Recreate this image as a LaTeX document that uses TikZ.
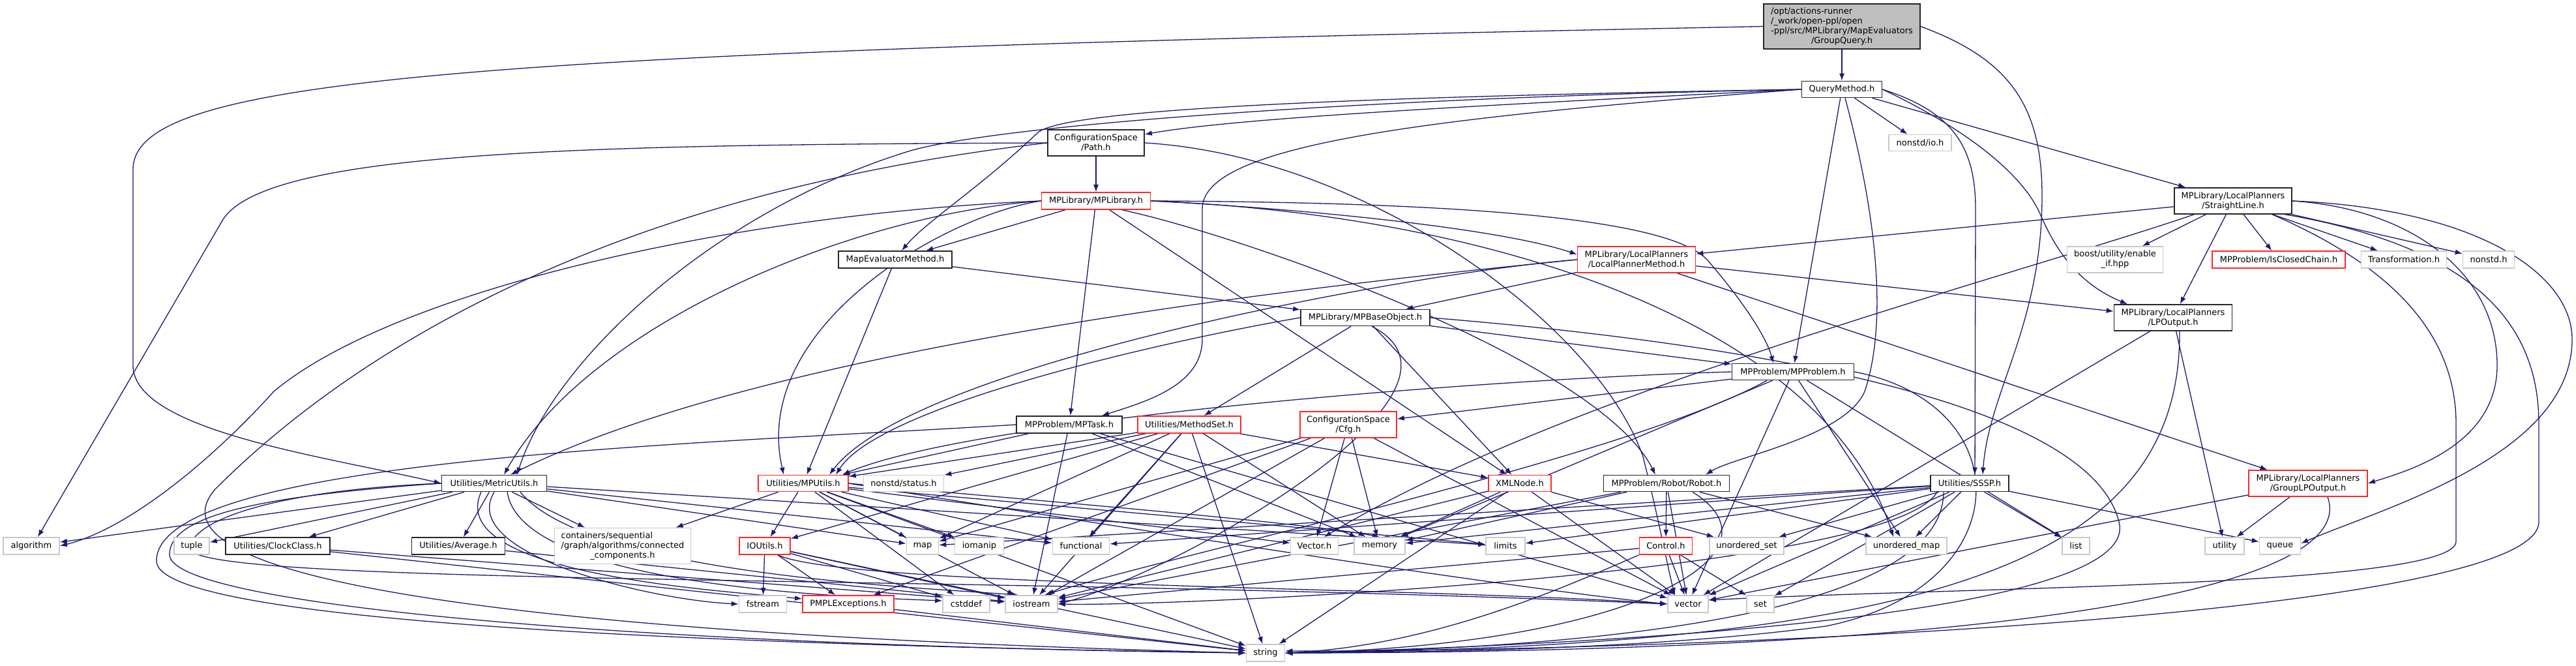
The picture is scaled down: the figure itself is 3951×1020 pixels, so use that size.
\documentclass[tikz,border=0pt]{standalone}
\usepackage{fontspec}
\setmainfont{DejaVu Sans}
\usetikzlibrary{arrows.meta}
\definecolor{edgec}{RGB}{25,25,112}
\definecolor{extg}{RGB}{200,200,200}
\definecolor{gqf}{RGB}{191,191,191}
\definecolor{rdc}{RGB}{255,40,40}
\pgfdeclarelayer{bg}
\pgfsetlayers{bg,main}
\tikzset{
 blk/.style={draw=black!85, line width=1.6pt, fill=white, inner sep=0pt, font=\fontsize{13}{15}\selectfont, align=center},
 rdn/.style={blk, draw=rdc},
 gry/.style={blk, draw=extg},
 gqs/.style={blk, fill=gqf},
 edg/.style={draw=edgec, line width=1.3pt, -{Latex[length=11pt,width=8pt]}}
}
\newcommand\nd[6]{\node[#1,minimum width=#4pt,minimum height=#5pt] (#2) at (#3) {#6};}
\begin{document}
\begin{tikzpicture}[x=1pt,y=-1pt]
\useasboundingbox (0,0) rectangle (3951,1020);
% rank 0-2
\nd{gqs}{GQ}{2825,40.5}{240}{69}{\begin{tabular}{@{}l@{}}/opt/actions-runner\\/\_work/open-ppl/open\\-ppl/src/MPLibrary/MapEvaluators\\\multicolumn{1}{@{}c@{}}{/GroupQuery.h}\end{tabular}}
\nd{blk}{QM}{2825,137}{123}{25}{QueryMethod.h}
\nd{gry}{nio}{2945,219}{96}{25}{nonstd/io.h}
\nd{blk}{Path}{1681,219}{148}{40}{ConfigurationSpace\\/Path.h}
\nd{rdn}{MPL}{1681,308}{167}{26}{MPLibrary/MPLibrary.h}
\nd{blk}{SL}{3425,308}{180}{40}{MPLibrary/LocalPlanners\\/StraightLine.h}
\nd{blk}{MEM}{1373,398}{174}{26}{MapEvaluatorMethod.h}
\nd{rdn}{LPM}{2510,398}{181}{40}{MPLibrary/LocalPlanners\\/LocalPlannerMethod.h}
\nd{gry}{eif}{3244,398}{147}{40}{boost/utility/enable\\\_if.hpp}
\nd{rdn}{ICC}{3495,398}{204}{26}{MPProblem/IsClosedChain.h}
\nd{gry}{Trans}{3687,398}{131}{26}{Transformation.h}
\nd{gry}{nstd}{3817,398}{79}{26}{nonstd.h}
\nd{blk}{MPBO}{2094,487}{198}{25}{MPLibrary/MPBaseObject.h}
\nd{blk}{LPO}{3333,487}{181}{40}{MPLibrary/LocalPlanners\\/LPOutput.h}
\nd{blk}{MPP}{2750,570}{187}{25}{MPProblem/MPProblem.h}
\nd{blk}{MPT}{1640,651}{162}{26}{MPProblem/MPTask.h}
\nd{rdn}{MS}{1824,651}{158}{26}{Utilities/MethodSet.h}
\nd{rdn}{Cfg}{2068,651}{148}{40}{ConfigurationSpace\\/Cfg.h}
\nd{blk}{MU}{758,741}{161}{25}{Utilities/MetricUtils.h}
\nd{rdn}{MPU}{1232,741}{138}{25}{Utilities/MPUtils.h}
\nd{gry}{status}{1386,741}{123}{25}{nonstd/status.h}
\nd{rdn}{XML}{2331,741}{96}{25}{XMLNode.h}
\nd{blk}{Robot}{2556,741}{193}{25}{MPProblem/Robot/Robot.h}
\nd{blk}{SSSP}{3021,741}{120}{25}{Utilities/SSSP.h}
\nd{rdn}{GLPO}{3540,741}{182}{40}{MPLibrary/LocalPlanners\\/GroupLPOutput.h}
\nd{gry}{algo}{48,837}{86}{26}{algorithm}
\nd{gry}{tuple}{294,837}{54}{26}{tuple}
\nd{blk}{Clock}{426,837}{160}{26}{Utilities/ClockClass.h}
\nd{blk}{Avg}{703,837}{143}{26}{Utilities/Average.h}
\nd{gry}{conn}{955,837}{209}{55}{\begin{tabular}{@{}l@{}}containers/sequential\\/graph/algorithms/connected\\\multicolumn{1}{@{}c@{}}{\_components.h}\end{tabular}}
\nd{rdn}{IOU}{1173,837}{78}{26}{IOUtils.h}
\nd{gry}{map}{1415,837}{49}{26}{map}
\nd{gry}{iomanip}{1502,837}{75}{26}{iomanip}
\nd{gry}{func}{1658,837}{87}{26}{functional}
\nd{gry}{VecH}{2016,837}{73}{26}{Vector.h}
\nd{gry}{memory}{2116,837}{78}{26}{memory}
\nd{gry}{limits}{2309,837}{60}{26}{limits}
\nd{rdn}{Control}{2555,837}{81}{26}{Control.h}
\nd{gry}{uset}{2679,837}{114}{26}{unordered\_set}
\nd{gry}{umap}{2924,837}{124}{26}{unordered\_map}
\nd{gry}{list}{3184,837}{42}{26}{list}
\nd{gry}{utility}{3412,837}{60}{26}{utility}
\nd{gry}{queue}{3497,837}{63}{26}{queue}
\nd{gry}{fstream}{1170,926}{73}{26}{fstream}
\nd{rdn}{PMPL}{1301,926}{140}{26}{PMPLExceptions.h}
\nd{gry}{cstddef}{1482,926}{72}{26}{cstddef}
\nd{gry}{iostream}{1582,926}{80}{26}{iostream}
\nd{gry}{vector}{2589,926}{62}{26}{vector}
\nd{gry}{set}{2700,926}{42}{26}{set}
\nd{gry}{string}{1941,1001}{59}{26}{string}

\begin{pgfonlayer}{bg}
\foreach \a/\b in {GQ/QM, QM/nio, QM/SL, QM/MPP, Path/MPL, MPL/MEM, MPL/MPT, MPL/XML,
 MEM/MPBO, MEM/MPU, LPM/MPBO, LPM/LPO, LPM/GLPO, SL/LPM, SL/LPO, SL/eif, SL/ICC, SL/Trans, SL/nstd,
 MPBO/MPP, MPBO/MS, MPBO/XML, MPP/Cfg, MPT/MPU, MS/MPU, MS/status, MS/IOU, MS/func, MS/iostream,
 MS/string, MS/memory, MS/map, MS/XML, Cfg/memory, Cfg/VecH, Cfg/iostream, Cfg/vector, Cfg/PMPL, Cfg/map,
 MPU/IOU, MPU/map, MPU/iomanip, MPU/func, MPU/conn, MPU/VecH, MPU/cstddef, MPU/iostream, MPU/string, MPU/limits,
 MU/tuple, MU/Clock, MU/Avg, MU/conn, MU/algo, IOU/fstream, IOU/PMPL, IOU/iostream, IOU/cstddef, IOU/string,
 PMPL/string, XML/memory, XML/vector, XML/string, XML/iostream, XML/uset, Robot/Control, Robot/memory,
 Robot/umap, Robot/vector, Robot/iostream, Control/vector, Control/set, Control/iostream,
 SSSP/func, SSSP/limits, SSSP/list, SSSP/uset, SSSP/umap, SSSP/vector, SSSP/set, SSSP/queue, SSSP/memory, SSSP/map,
 LPO/utility, LPO/vector, GLPO/utility, GLPO/vector, Clock/iostream, Clock/string, Avg/iostream,
 MPP/memory, MPP/umap, MPP/vector, MPP/list, MPT/memory, MPT/vector, MPT/iostream, MU/func, MU/limits, MU/map}
 {\draw[edg] (\a) -- (\b);}
% long curves
\draw[edg] (GQ.west) .. controls (700,80) and (204,120) .. (204,260) -- (204,560) .. controls (204,660) and (500,700) .. (MU.west);
\draw[edg] (GQ.east) .. controls (3080,90) and (3132,160) .. (3132,300) .. controls (3132,500) and (3050,600) .. ([xshift=20pt]SSSP.north);
\draw[edg] (QM.east) .. controls (2990,170) and (3030,220) .. (3030,320) -- ([xshift=8pt]SSSP.north);
\draw[edg] ([xshift=5pt]QM.south) .. controls (2870,300) and (2900,480) .. (2860,600) .. controls (2830,670) and (2660,700) .. ([xshift=60pt]Robot.north);
\draw[edg] (QM.east) .. controls (3000,190) and (3100,260) .. (3130,330) .. controls (3160,400) and (3200,440) .. ([xshift=-70pt]LPO.north);
\draw[edg] (QM.west) .. controls (2300,160) and (1900,180) .. ([yshift=13pt]Path.east);
\draw[edg] (QM.west) .. controls (2000,150) and (1620,170) .. (1590,205) .. controls (1500,290) and (1420,340) .. ([xshift=10pt]MEM.north);
\draw[edg] (QM.west) .. controls (2200,180) and (1844,220) .. (1844,320) -- (1844,520) .. controls (1844,590) and (1760,615) .. ([xshift=50pt]MPT.north);
\draw[edg] (QM.west) .. controls (2100,150) and (1550,190) .. (1400,230) .. controls (1100,320) and (850,550) .. ([xshift=35pt]MU.north);
\draw[edg] (Path.west) .. controls (900,222) and (400,230) .. (340,340) -- ([xshift=10pt]algo.north);
\draw[edg] (Path.west) .. controls (900,300) and (520,560) .. (330,750) .. controls (200,900) and (900,975) .. (string.west);
\draw[edg] (Path.east) .. controls (2100,240) and (2450,500) .. (2520,700) .. controls (2545,800) and (2560,880) .. ([xshift=-20pt]vector.north);
\draw[edg] (MPL.east) .. controls (2000,320) and (2300,350) .. ([yshift=8pt]LPM.west);
\draw[edg] (MPL.east) .. controls (2200,310) and (2560,330) .. (2620,400) .. controls (2680,470) and (2710,520) .. ([xshift=-30pt]MPP.north);
\draw[edg] ([xshift=40pt]MPL.south) .. controls (1900,360) and (2450,550) .. ([xshift=-17pt]Robot.north);
\draw[edg] (MPL.west) .. controls (1300,330) and (900,500) .. ([xshift=15pt]MU.north);
\draw[edg] (MPL.west) .. controls (1450,330) and (1150,500) .. ([xshift=-30pt]MPU.north);
\draw[edg] (MPL.west) .. controls (1100,330) and (600,450) .. (420,600) .. controls (330,700) and (200,810) .. (algo.east);
\draw[edg] (MPL.east) .. controls (2300,330) and (2800,500) .. ([xshift=-20pt]umap.north);
\draw[edg] (LPM.west) .. controls (2100,430) and (1200,520) .. ([xshift=25pt]MU.north);
\draw[edg] (LPM.west) .. controls (2150,420) and (1400,560) .. ([xshift=40pt]MPU.north);
\draw[edg] (SL.east) .. controls (3700,320) and (3830,420) .. (3830,560) .. controls (3830,680) and (3700,720) .. (GLPO.east);
\draw[edg] (SL.east) .. controls (3800,320) and (3945,420) .. (3945,520) .. controls (3945,700) and (3650,780) .. ([yshift=4pt]queue.east);
\draw[edg] ([xshift=60pt]SL.south) .. controls (3650,400) and (3767,500) .. (3767,650) -- (3767,830) .. controls (3767,900) and (3000,900) .. ([yshift=6pt]vector.east);
\draw[edg] ([xshift=80pt]SL.south) .. controls (3800,380) and (3894,500) .. (3894,650) -- (3894,800) .. controls (3894,950) and (2500,1000) .. ([yshift=3pt]string.east);
\draw[edg] ([xshift=-60pt]SL.south) .. controls (3100,420) and (2400,600) .. ([xshift=15pt]VecH.north);
\draw[edg] ([xshift=10pt]LPO.south) .. controls (3345,850) and (3000,990) .. (string.east);
\draw[edg] ([xshift=30pt]GLPO.south) .. controls (3620,900) and (3100,1000) .. (string.east);
\draw[edg] (MPBO.west) .. controls (1800,520) and (1350,620) .. ([xshift=50pt]MPU.north);
\draw[edg] (MPBO.east) .. controls (2600,520) and (3200,600) .. (3250,800) .. controls (3290,950) and (2400,990) .. (string.east);
\draw[edg] ([xshift=10pt]MPBO.south) .. controls (2300,600) and (1800,880) .. (iostream.east);
\draw[edg] (MPP.west) .. controls (2300,580) and (1500,640) .. ([xshift=60pt]MPU.north);
\draw[edg] (MPP.east) .. controls (3100,620) and (3100,900) .. (2800,960) .. controls (2500,1000) and (2100,1000) .. (string.east);
\draw[edg] ([xshift=-40pt]MPP.south) .. controls (2500,700) and (1800,850) .. ([xshift=20pt]iostream.north);
\draw[edg] (MPT.west) .. controls (1100,680) and (240,700) .. (240,860) .. controls (240,960) and (1200,990) .. (string.west);
\draw[edg] (MU.west) .. controls (400,760) and (260,790) .. (260,850) .. controls (260,930) and (1000,990) .. (string.west);
\draw[edg] (MU.west) .. controls (450,750) and (300,790) .. (290,840) .. controls (290,900) and (1500,880) .. (vector.west);
\draw[edg] (MU.south) .. controls (700,850) and (1000,920) .. (fstream.west);
\draw[edg] ([xshift=-20pt]MU.south) .. controls (680,880) and (1100,905) .. ([yshift=8pt]PMPL.west);
\draw[edg] ([xshift=20pt]MU.south) .. controls (800,900) and (1300,915) .. ([yshift=5pt]cstddef.west);
\draw[edg] ([xshift=40pt]MU.south) .. controls (900,880) and (1400,900) .. ([xshift=-20pt]iostream.north);
\draw[edg] ([xshift=40pt]Robot.south) .. controls (2750,850) and (2500,990) .. (string.east);
\draw[edg] (Control.south west) .. controls (2400,900) and (2200,990) .. (string.east);
\draw[edg] ([xshift=-40pt]SSSP.south) .. controls (2980,950) and (2400,995) .. (string.east);
\draw[edg] ([xshift=-50pt]SSSP.south) .. controls (2900,880) and (1800,930) .. (iostream.east);
\draw[edg] (MPU.east) .. controls (1600,790) and (2300,900) .. (vector.west);
\draw[edg] (MPU.east) .. controls (1500,760) and (2000,800) .. (memory.north);
\draw[edg] ([xshift=20pt]IOU.south) .. controls (1300,900) and (2200,900) .. (vector.west);
\end{pgfonlayer}
\end{tikzpicture}
\end{document}
